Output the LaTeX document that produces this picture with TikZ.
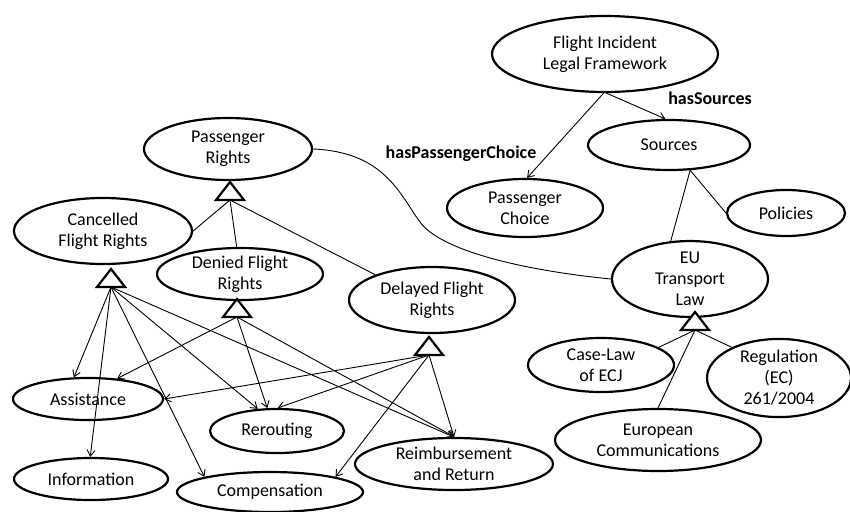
\documentclass[tikz,border=0pt]{standalone}
\usepackage{fontspec}
\setmainfont{Carlito}
\usetikzlibrary{shapes.geometric,arrows.meta}
\begin{document}
\begin{tikzpicture}[x=1pt,y=-1pt,
  cls/.style={ellipse,draw,line width=2.2pt,inner sep=0pt,align=center,font=\fontsize{18}{21}\selectfont},
  link/.style={line width=0.9pt},
  arr/.style={link,-{Straight Barb[length=6pt,width=8pt,line width=0.9pt]}},
  lbl/.style={font=\bfseries\fontsize{18}{21}\selectfont,inner sep=0pt},
  tri/.pic={\draw[line width=2.2pt,fill=white,line join=miter] (-14,0) -- (0,-18) -- (14,0) -- cycle;}
]
\useasboundingbox (0,0) rectangle (850,511);

% classes
\node[cls,minimum width=226pt,minimum height=76pt] (FI) at (605,54) {Flight Incident\\Legal Framework};
\node[cls,minimum width=162pt,minimum height=50pt] (Src) at (669,145) {Sources};
\node[cls,minimum width=156pt,minimum height=58pt] (PC) at (525,208) {Passenger\\Choice};
\node[cls,minimum width=118pt,minimum height=46pt] (Pol) at (786,213) {Policies};
\node[cls,minimum width=156pt,minimum height=62pt] (EU) at (690,279) {EU\\Transport\\Law};
\node[cls,minimum width=146pt,minimum height=54pt] (CL) at (601,365) {Case-Law\\of ECJ};
\node[cls,minimum width=144pt,minimum height=64pt] (Reg) at (779,378) {Regulation\\(EC)\\261/2004};
\node[cls,minimum width=206pt,minimum height=62pt] (EC) at (658,440) {European\\Communications};

\node[cls,minimum width=168pt,minimum height=62pt] (PR) at (228,149) {Passenger\\Rights};
\node[cls,minimum width=178pt,minimum height=66pt] (CF) at (103,231) {Cancelled\\Flight Rights};
\node[cls,minimum width=166pt,minimum height=52pt] (DN) at (240,274) {Denied Flight\\Rights};
\node[cls,minimum width=166pt,minimum height=66pt] (DL) at (432,300) {Delayed Flight\\Rights};
\node[cls,minimum width=150pt,minimum height=42pt] (As) at (88,399) {Assistance};
\node[cls,minimum width=134pt,minimum height=44pt] (Rr) at (277,431) {Rerouting};
\node[cls,minimum width=154pt,minimum height=42pt] (Inf) at (91,479) {Information};
\node[cls,minimum width=186pt,minimum height=40pt] (Cmp) at (270,492) {Compensation};
\node[cls,minimum width=198pt,minimum height=52pt] (Rb) at (454,464) {Reimbursement\\and Return};

% labels
\node[lbl] (lPC) at (461,154) {hasPassengerChoice};
\node[lbl] (lS) at (710,98) {hasSources};

% triangle base points
\coordinate (tPR) at (230,200);
\coordinate (tCF) at (111,287);
\coordinate (tDN) at (237,317);
\coordinate (tDL) at (429,355);
\coordinate (tEU) at (695,330);

% object properties
\draw[arr] (FI.-92) -- (PC.86);
\draw[arr] (FI.-88) -- (Src.98);
\draw[link] (Src.-50) -- (EU.117);
\draw[link] (Src.-50) -- (Pol.west);
\draw[link] (PR.east) .. controls (385,152) and (400,195) .. (420,222) .. controls (440,250) and (520,270) .. (EU.west);

% subclass links
\draw[link] (tPR) -- (CF.east);
\draw[link] (tPR) -- (DN.97);
\draw[link] (tPR) -- (DL.156);
\draw[link] (tEU) -- (CL.17);
\draw[link] (tEU) -- (Reg.147);
\draw[link] (tEU) -- (EC.north);

% parts
\draw[arr] (tCF) -- (As.123);
\draw[arr] (tCF) -- (Inf.92);
\draw[arr] (tCF) -- (Cmp.167);
\draw[arr] (tCF) -- (Rr.131);
\draw[arr] (tCF) -- (Rb.91);
\draw[arr] (tDN) -- (As.35);
\draw[arr] (tDN) -- (Rr.113);
\draw[arr] (tDN) -- (Rb.89);
\draw[arr] (tDL) -- (As.east);
\draw[arr] (tDL) -- (Rr.88);
\draw[arr] (tDL) -- (Rb.90);
\draw[arr] (tDL) -- (Cmp.13);

% triangles
\pic at (tPR) {tri};
\pic at (tCF) {tri};
\pic at (tDN) {tri};
\pic at (tDL) {tri};
\pic at (tEU) {tri};
\end{tikzpicture}
\end{document}
